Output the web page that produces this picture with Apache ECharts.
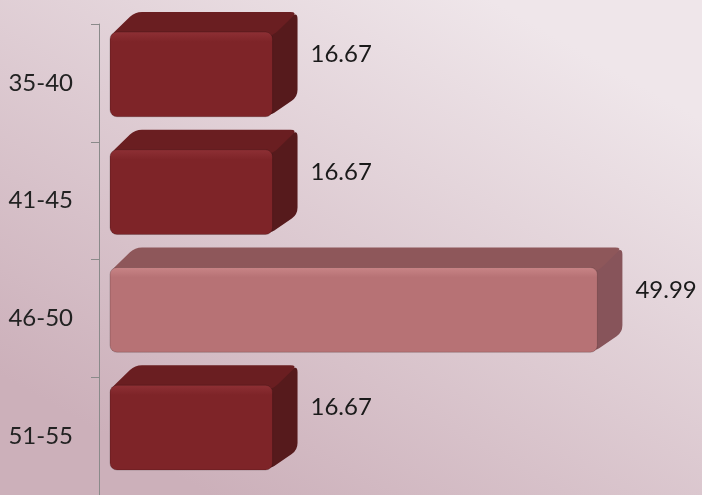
<!DOCTYPE html>
<html>
<head>
<meta charset="utf-8">
<script src="https://cdn.jsdelivr.net/npm/echarts@6/dist/echarts.min.js"></script>
<style>
html,body{margin:0;padding:0;}
#chart{width:702px;height:495px;}
</style>
</head>
<body>
<div id="chart"></div>
<script>
// ---- data ----
const categories = ['35-40', '41-45', '46-50', '51-55'];
const values = [16.67, 16.67, 49.99, 16.67];
const valueLabels = ['16.67', '16.67', '49.99', '16.67'];

// ---- styles (separate from data) ----
const darkStyle = { front: '#7e2428', frontTop: '#8e3035', top: '#6a1e21', side: '#561a1c' };
const pinkStyle = { front: '#b77275', frontTop: '#c98587', top: '#8e575a', side: '#87545a' };
const barStyles = [darkStyle, darkStyle, pinkStyle, darkStyle];

const GAP = 11;               // gap between axis line and bar start
const DX = 25, DY = -20;      // 3D depth offset
const BAR_RATIO = 0.72;       // front face height / band
const SHIFT = 8.5;            // front face shifted up from band centre
const LABEL_GAP = 13;
const FONT = 'Lato, "Open Sans", sans-serif';

function roundedPoly(pts, r) {
  const n = pts.length;
  let d = '';
  for (let i = 0; i < n; i++) {
    const p = pts[i], a = pts[(i - 1 + n) % n], b = pts[(i + 1) % n];
    const la = Math.hypot(a[0] - p[0], a[1] - p[1]);
    const lb = Math.hypot(b[0] - p[0], b[1] - p[1]);
    const ra = Math.min(r, la / 2), rb = Math.min(r, lb / 2);
    const s = [p[0] + (a[0] - p[0]) * ra / la, p[1] + (a[1] - p[1]) * ra / la];
    const e = [p[0] + (b[0] - p[0]) * rb / lb, p[1] + (b[1] - p[1]) * rb / lb];
    d += (i === 0 ? 'M' : 'L') + s[0] + ' ' + s[1] + ' Q' + p[0] + ' ' + p[1] + ' ' + e[0] + ' ' + e[1] + ' ';
  }
  return d + 'Z';
}

function renderItem(params, api) {
  const idx = api.value(1);
  const v = api.value(0);
  const p0 = api.coord([0, idx]);
  const p1 = api.coord([v, idx]);
  const band = api.size([0, 1])[1];
  const h = band * BAR_RATIO;
  const yc = p0[1] - SHIFT;
  const x0 = p0[0] + GAP, x1 = p1[0] + GAP;
  const y0 = yc - h / 2, y1 = yc + h / 2;
  const st = barStyles[idx];
  const side = [[x1 - 4, y0], [x1 + DX, y0 + DY], [x1 + DX, y1 + DY], [x1 - 4, y1]];
  const top = [[x0, y0 + 4], [x0 + DX, y0 + DY], [x1 + DX, y0 + DY], [x1, y0 + 4]];
  return {
    type: 'group',
    children: [
      { type: 'path', shape: { pathData: roundedPoly(side, 7) }, style: { fill: st.side } },
      { type: 'path', shape: { pathData: roundedPoly(top, 7) }, style: { fill: st.top } },
      {
        type: 'rect', shape: { x: x0, y: y0, width: x1 - x0, height: h, r: 7 },
        style: {
          fill: { type: 'linear', x: 0, y: 0, x2: 0, y2: 1,
            colorStops: [{ offset: 0, color: st.frontTop }, { offset: 0.12, color: st.front }, { offset: 1, color: st.front }] },
          stroke: 'rgba(0,0,0,0.18)', lineWidth: 1
        }
      },
      {
        type: 'text',
        style: {
          text: valueLabels[idx], x: x1 + DX + LABEL_GAP, y: y0 + DY + h / 2,
          align: 'left', verticalAlign: 'middle',
          font: '24px ' + FONT, fill: '#1a1a1a'
        }
      }
    ]
  };
}

const chart = echarts.init(document.getElementById('chart'), null, { renderer: 'canvas' });
chart.setOption({
  backgroundColor: { type: 'linear', x: 0.7, y: 0, x2: 0.3, y2: 1,
    colorStops: [{ offset: 0, color: '#efe6ea' }, { offset: 1, color: '#ccb0ba' }] },
  animation: false,
  grid: { left: 99, right: 18, top: 24, bottom: -5 },
  xAxis: { type: 'value', min: 0, max: 60, show: false },
  yAxis: {
    type: 'category', data: categories, inverse: true,
    axisLine: { show: true, lineStyle: { color: '#8a8a8a', width: 1 } },
    axisTick: { show: true, length: 8, lineStyle: { color: '#8a8a8a' } },
    axisLabel: { margin: 26, fontSize: 24, fontFamily: FONT, color: '#222' },
    splitLine: { show: false }
  },
  series: [{
    type: 'custom',
    renderItem: renderItem,
    encode: { x: 0, y: 1 },
    data: values.map((v, i) => [v, i])
  }]
});
</script>
</body>
</html>
